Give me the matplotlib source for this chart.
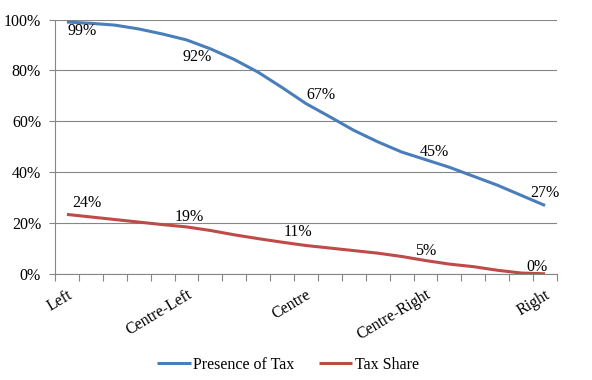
import matplotlib
matplotlib.use("Agg")
import matplotlib.pyplot as plt
from matplotlib.ticker import FixedLocator, NullFormatter, FixedFormatter

plt.rcParams['font.family'] = ['Liberation Serif', 'DejaVu Serif']

categories = ["Left", "Centre-Left", "Centre", "Centre-Right", "Right"]
label_idx = [0, 5, 10, 15, 20]

presence_of_tax = [99, 98.5, 97.8, 96.3, 94.3, 92, 88.5, 84.3, 79.3, 73.3, 67, 61.8, 56.5, 52, 48,
                   45, 42, 38.5, 35, 31, 27]
tax_share = [23.5, 22.5, 21.5, 20.5, 19.5, 18.6, 17.2, 15.5, 14, 12.6, 11.3, 10.3,
             9.3, 8.3, 7, 5.4, 4, 3, 1.6, 0.5, 0.2]

blue = "#4A7EBB"
red = "#BE4B48"
grid = "#868686"

fig = plt.figure(figsize=(5.92, 3.8), dpi=100)
ax = fig.add_axes([55/592, (380-274.3)/380, (557-55)/592, (274.3-19.5)/380])

n = len(presence_of_tax)
xs = list(range(n))
ax.plot(xs, [v/100 for v in presence_of_tax], color=blue, lw=2.2,
        solid_capstyle='butt', label="Presence of Tax", zorder=3)
ax.plot(xs, [v/100 for v in tax_share], color=red, lw=2.2,
        solid_capstyle='butt', label="Tax Share", zorder=3)

ax.set_xlim(-0.5, n - 0.5)
ax.set_ylim(0, 1)

# y axis
ax.set_yticks([0, 0.2, 0.4, 0.6, 0.8, 1.0])
ax.set_yticklabels(["0%", "20%", "40%", "60%", "80%", "100%"], fontsize=11.5)
ax.yaxis.grid(True, color=grid, lw=0.8)
ax.set_axisbelow(True)
ax.tick_params(axis='y', length=4, width=0.8, color=grid, pad=6)

# x axis: boundary tick marks, labels on minor ticks
ax.xaxis.set_major_locator(FixedLocator([i - 0.5 for i in range(n + 1)]))
ax.xaxis.set_major_formatter(NullFormatter())
ax.xaxis.set_minor_locator(FixedLocator(label_idx))
ax.xaxis.set_minor_formatter(FixedFormatter(categories))
ax.tick_params(axis='x', which='major', length=5, width=0.8, color=grid, direction='out')
ax.tick_params(axis='x', which='minor', length=0, pad=9, labelsize=11.5)
for lab in ax.get_xticklabels(minor=True):
    lab.set_rotation(31)
    lab.set_ha('right')
    lab.set_va('top')
    lab.set_rotation_mode('anchor')

for s in ['top', 'right']:
    ax.spines[s].set_visible(False)
for s in ['left', 'bottom']:
    ax.spines[s].set_color(grid)
    ax.spines[s].set_linewidth(0.8)

# data labels (offsets in pixels)
blue_off = [(15, -9), (11, -17), (15, 9), (9, 8), (0, 13)]
red_off = [(20, 11), (3, 10), (-8, 14), (0, 10), (-8, 7)]
for k, i in enumerate(label_idx):
    ax.annotate(f"{round(presence_of_tax[i])}%", (i, presence_of_tax[i]/100),
                xytext=blue_off[k], textcoords='offset pixels',
                ha='center', va='center', fontsize=11.5)
    ax.annotate(f"{round(tax_share[i])}%", (i, tax_share[i]/100),
                xytext=red_off[k], textcoords='offset pixels',
                ha='center', va='center', fontsize=11.5)

fig.legend(loc='center', bbox_to_anchor=(0.5 - 8/592, (380-365)/380), ncol=2, frameon=False,
           fontsize=11.5, handlelength=2.1, columnspacing=1.5, handletextpad=0.15)

fig.savefig("out.png", dpi=100)
